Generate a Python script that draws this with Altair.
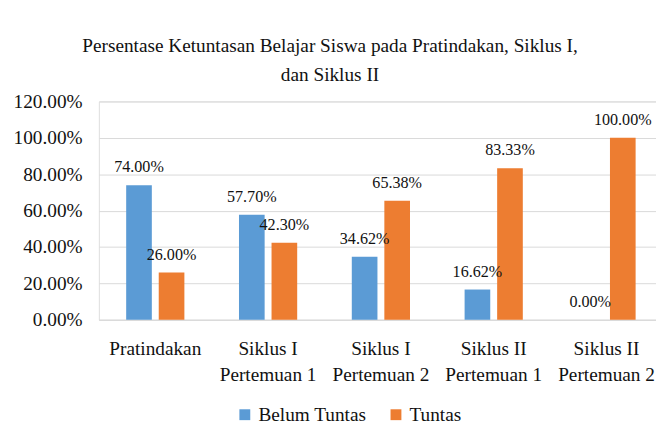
import altair as alt
import pandas as pd

# ---- data ----
categories = [
    "Pratindakan",
    "Siklus I\nPertemuan 1",
    "Siklus I\nPertemuan 2",
    "Siklus II\nPertemuan 1",
    "Siklus II\nPertemuan 2",
]
series = ["Belum Tuntas", "Tuntas"]
belum_tuntas = [74.00, 57.70, 34.62, 16.62, 0.00]
tuntas = [26.00, 42.30, 65.38, 83.33, 100.00]
y_ticks = [0, 20, 40, 60, 80, 100, 120]
colors = ["#5B9BD5", "#ED7D31"]
title_lines = ["Persentase Ketuntasan Belajar Siswa pada Pratindakan, Siklus I,", "dan Siklus II"]

rows = []
for c, b, t in zip(categories, belum_tuntas, tuntas):
    rows.append({"kategori": c, "seri": series[0], "nilai": b})
    rows.append({"kategori": c, "seri": series[1], "nilai": t})
df = pd.DataFrame(rows)

FONT = "'Liberation Serif', 'Times New Roman', 'DejaVu Serif', serif"
TXT = "#111111"
GRID = "#D9D9D9"

base = alt.Chart(df).transform_calculate(
    label="format(datum.nilai / 100, '.2%')"
).encode(
    x=alt.X(
        "kategori:N",
        sort=categories,
        scale=alt.Scale(range=[0, 571], paddingInner=0.484, paddingOuter=0.242),
        axis=alt.Axis(
            title=None,
            labelExpr="split(datum.label, '\\n')",
            labelAngle=0,
            ticks=False,
            domainColor=GRID,
            labelFont=FONT,
            labelFontSize=19.5,
            labelColor=TXT,
            labelPadding=20,
            labelLineHeight=27,
            labelBaseline="top",
        ),
    ),
    xOffset=alt.XOffset("seri:N", sort=series, scale=alt.Scale(paddingInner=0.212, paddingOuter=0)),
    y=alt.Y(
        "nilai:Q",
        scale=alt.Scale(domain=[0, 120], nice=False),
        axis=alt.Axis(
            title=None,
            values=y_ticks,
            labelExpr="format(datum.value / 100, '.2%')",
            domain=False,
            ticks=False,
            gridColor=GRID,
            gridWidth=1,
            labelFont=FONT,
            labelFontSize=19.5,
            labelColor=TXT,
            labelPadding=17,
        ),
    ),
)

bars = base.mark_bar().encode(
    color=alt.Color(
        "seri:N",
        sort=series,
        scale=alt.Scale(domain=series, range=colors),
        legend=alt.Legend(
            title=None,
            orient="none",
            legendX=138,
            legendY=307,
            direction="horizontal",
            symbolType="square",
            symbolSize=121,
            symbolStrokeWidth=0,
            labelFont=FONT,
            labelFontSize=19.5,
            labelColor=TXT,
            labelOffset=4,
            columnPadding=20,
            padding=0,
        ),
    )
)

labels = base.mark_text(
    baseline="alphabetic", dy=-13, font=FONT, fontSize=16.3, color=TXT
).encode(text="label:N")

chart = (
    alt.layer(bars, labels)
    .properties(
        width=564,
        height=221,
        autosize=alt.AutoSizeParams(type="none"),
        padding={"left": 92, "top": 92, "right": 0, "bottom": 110},
        title=alt.TitleParams(
            text=title_lines,
            font=FONT,
            fontSize=19.5,
            fontWeight="normal",
            color=TXT,
            anchor="middle",
            frame="group",
            dx=-48,
            baseline="alphabetic",
            lineHeight=30,
            offset=-9,
        ),
    )
    .configure_view(stroke=None)
    .configure(background="white")
)

chart.save("out.html", embed_options={"renderer": "svg", "actions": False})
